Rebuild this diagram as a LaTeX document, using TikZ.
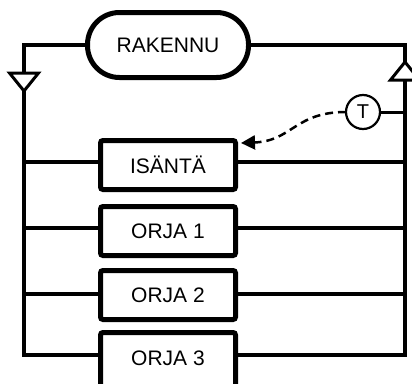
\documentclass[tikz,border=0pt]{standalone}
\usepackage{fontspec}
\setmainfont{Liberation Sans}
\usetikzlibrary{arrows.meta,calc}
\begin{document}
\begin{tikzpicture}[x=1pt,y=-1pt,
  wire/.style={line width=3.5pt},
  blockbox/.style={draw,line width=5pt,rounded corners=2.5pt,minimum width=135pt,minimum height=49pt,inner sep=0pt,outer sep=0pt,font=\fontsize{21}{24}\selectfont},
  term/.style={draw,line width=5pt,rounded corners=32pt,minimum width=161pt,minimum height=65pt,inner sep=0pt,outer sep=0pt,font=\fontsize{21}{24}\selectfont},
  tri/.style={draw,fill=white,line width=3pt,line join=miter},
  tcirc/.style={circle,draw,line width=2.2pt,minimum size=34pt,inner sep=0pt,outer sep=0pt,font=\fontsize{20}{22}\selectfont},
  dasharrow/.style={line width=2.5pt,dash pattern=on 8pt off 5pt,-{Triangle[length=14pt,width=14pt]}}]
\useasboundingbox (0,0) rectangle (412,383);
\clip (0,0) rectangle (412,383);
\node[term] (rak) at (168,45) {RAKENNU};
\node[blockbox] (isa) at (168,165) {ISÄNTÄ};
\node[blockbox] (o1) at (168,231) {ORJA 1};
\node[blockbox] (o2) at (168,295) {ORJA 2};
\node[blockbox,minimum height=56pt] (o3) at (168,360.5) {\raisebox{5pt}{ORJA 3}};
\coordinate (tl) at (24,45);
\coordinate (tr) at (405,45);
\coordinate (bl) at (24,355);
\coordinate (br) at (405,355);
\coordinate (a1) at (24,162);
\coordinate (a2) at (24,228);
\coordinate (a3) at (24,294);
\draw[wire] (rak.west) -- (tl) -- (bl) -- (bl -| o3.west);
\draw[wire] (rak.east) -- (tr) -- (br) -- (br -| o3.east);
\draw[wire] (a1) -- (a1 -| isa.west);
\draw[wire] (a1 -| isa.east) -- (a1 -| tr);
\draw[wire] (a2) -- (a2 -| o1.west);
\draw[wire] (a2 -| o1.east) -- (a2 -| tr);
\draw[wire] (a3) -- (a3 -| o2.west);
\draw[wire] (a3 -| o2.east) -- (a3 -| tr);
\draw[tri] (9.5,73) -- (38.5,73) -- (24,91) -- cycle;
\draw[tri] (405,62) -- (419.5,80) -- (390.5,80) -- cycle;
\node[tcirc] (T) at (363,112) {T};
\draw[line width=3pt] (T.east) -- (T.east -| tr);
\coordinate (tip) at (241,143);
\draw[dasharrow] (T.west) .. controls (295,112) and (292,141) .. (tip);
\end{tikzpicture}
\end{document}
